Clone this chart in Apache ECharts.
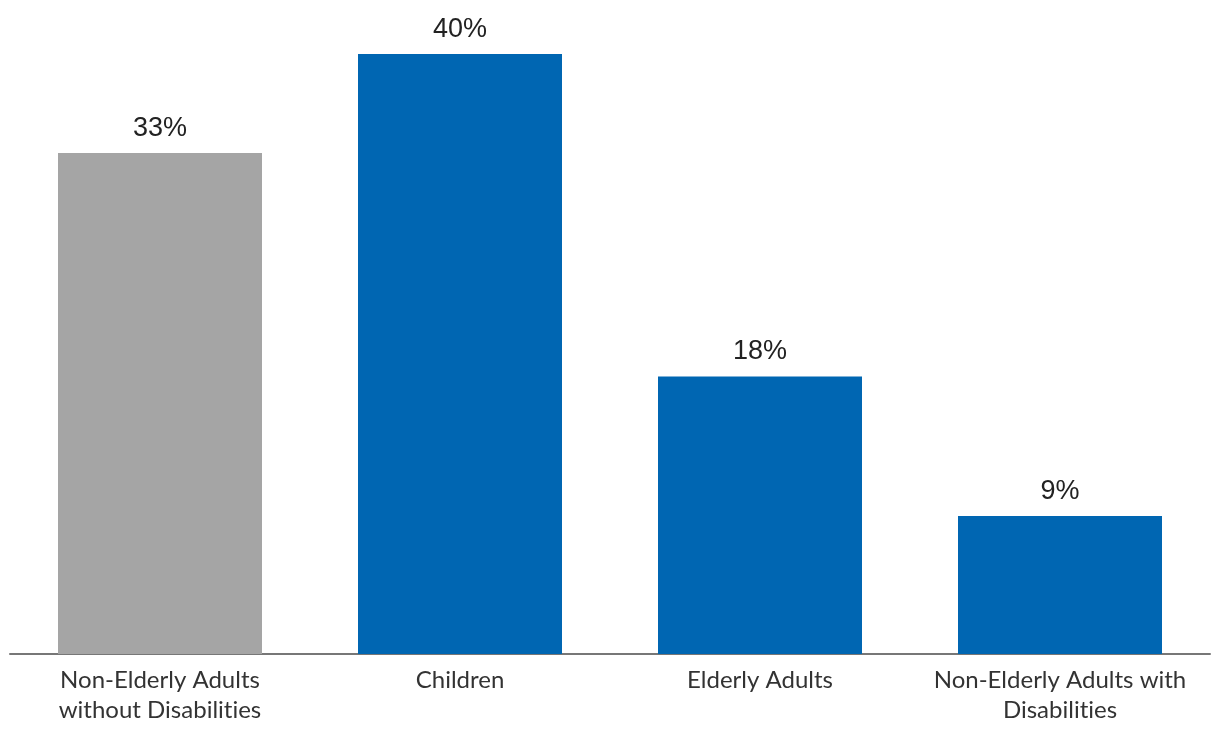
<!DOCTYPE html>
<html>
<head>
<meta charset="utf-8">
<script src="https://cdn.jsdelivr.net/npm/echarts@6/dist/echarts.min.js"></script>
<style>html,body{margin:0;padding:0;background:#fff;}#c{width:1220px;height:740px;}</style>
</head>
<body>
<div id="c"></div>
<script>
const categories = ['Non-Elderly Adults\nwithout Disabilities', 'Children', 'Elderly Adults', 'Non-Elderly Adults with\nDisabilities'];
const values = [33.4, 40.0, 18.5, 9.2];
const valueLabels = ['33%', '40%', '18%', '9%'];
const barColors = ['#a5a5a5', '#0066b2', '#0066b2', '#0066b2'];

const chart = echarts.init(document.getElementById('c'));
chart.setOption({
  animation: false,
  grid: { left: 10, right: 10, top: 54, bottom: 86, containLabel: false },
  xAxis: {
    type: 'category',
    data: categories,
    axisLine: { lineStyle: { color: '#777', width: 2 } },
    axisTick: { show: false },
    axisLabel: {
      fontFamily: 'Lato', fontSize: 24, color: '#333', lineHeight: 30, margin: 11, interval: 0,
      formatter: v => v.replace(/ti/g, 't\u200Ci')
    }
  },
  yAxis: { type: 'value', min: 0, max: 40, show: false, splitLine: { show: false } },
  series: [{
    type: 'bar',
    barWidth: '68%',
    data: values.map((v, i) => ({ value: v, itemStyle: { color: barColors[i] } })),
    label: {
      show: true, position: 'top', distance: 11,
      fontFamily: 'Liberation Sans', fontSize: 27, color: '#222',
      formatter: p => valueLabels[p.dataIndex]
    }
  }]
});
</script>
</body>
</html>
